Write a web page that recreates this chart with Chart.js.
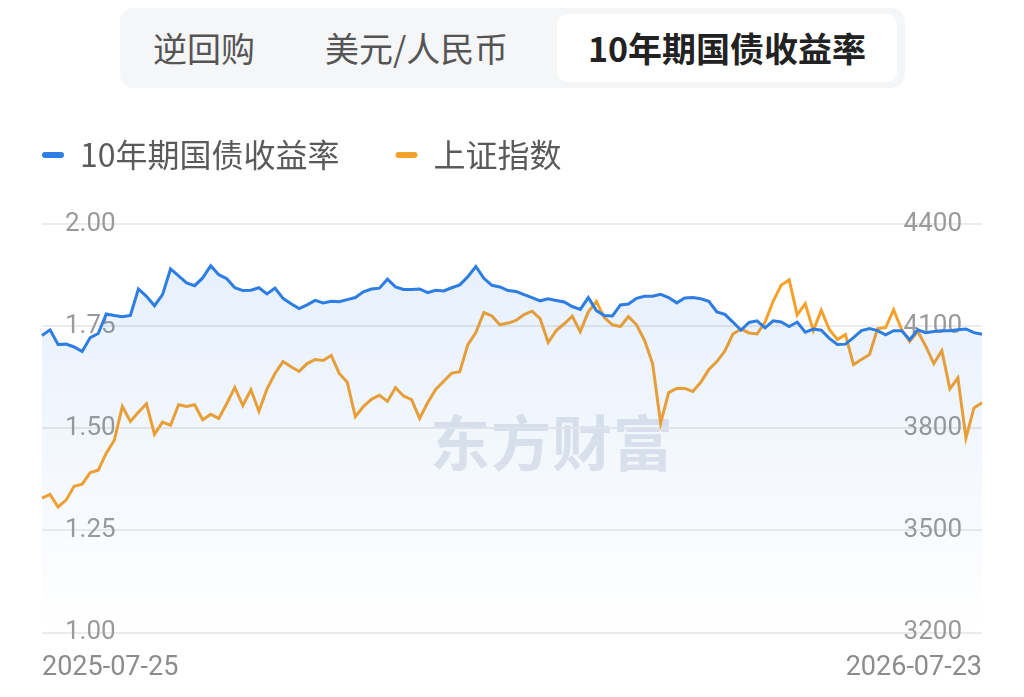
<!DOCTYPE html>
<html>
<head>
<meta charset="utf-8">
<script src="https://cdn.jsdelivr.net/npm/chart.js@4.4.1/dist/chart.umd.min.js"></script>
<style>
  html, body { margin: 0; padding: 0; background: #fff; width: 1024px; height: 697px; overflow: hidden; }
  body { position: relative; font-family: "Noto Sans CJK SC", "Noto Sans", sans-serif; }
  .tabs { position: absolute; left: 120px; top: 8px; width: 785px; height: 80px; background: #f5f6f8; border-radius: 14px; z-index: 3; }
  .tab { position: absolute; top: 0; height: 80px; line-height: 80px; font-size: 34px; color: #555; }
  .tab.on { top: 6px; height: 68px; line-height: 68px; background: #fff; border-radius: 10px; color: #222; font-weight: bold; text-align: center; }
  .mark { position: absolute; left: 430px; top: 396px; font-size: 60px; font-weight: bold; color: #e3e6ec; letter-spacing: 1px; z-index: 0; }
  .wrap { position: absolute; left: -14px; top: 0; width: 1038px; height: 695px; z-index: 1; }
</style>
</head>
<body>
<div class="tabs">
  <div class="tab" style="left:33px">逆回购</div>
  <div class="tab" style="left:205px">美元/人民币</div>
  <div class="tab on" style="left:437px;width:340px">10年期国债收益率</div>
</div>
<div class="mark">东方财富</div>
<div class="wrap"><canvas id="bond-chart"></canvas></div>
<script>
// 10年期国债收益率 (%) and 上证指数, daily, 2025-07-25 .. 2026-07-23
var dateLabels = ['2025-07-25', '2026-07-23'];

var yields = [
  1.727, 1.741, 1.705, 1.706, 1.699, 1.688, 1.722, 1.732, 1.780, 1.776,
  1.773, 1.776, 1.841, 1.823, 1.800, 1.827, 1.890, 1.873, 1.856, 1.849,
  1.868, 1.898, 1.876, 1.866, 1.844, 1.837, 1.838, 1.844, 1.829, 1.843,
  1.818, 1.805, 1.793, 1.802, 1.813, 1.807, 1.811, 1.810, 1.815, 1.820,
  1.834, 1.841, 1.843, 1.865, 1.846, 1.840, 1.840, 1.841, 1.832, 1.838,
  1.836, 1.844, 1.851, 1.871, 1.896, 1.867, 1.850, 1.846, 1.837, 1.835,
  1.827, 1.820, 1.812, 1.817, 1.813, 1.809, 1.798, 1.791, 1.820, 1.788,
  1.776, 1.775, 1.802, 1.804, 1.818, 1.823, 1.823, 1.828, 1.820, 1.807,
  1.819, 1.820, 1.817, 1.811, 1.785, 1.779, 1.760, 1.740, 1.759, 1.763,
  1.746, 1.763, 1.760, 1.749, 1.760, 1.735, 1.743, 1.740, 1.720, 1.705,
  1.706, 1.722, 1.739, 1.744, 1.739, 1.729, 1.739, 1.739, 1.717, 1.741,
  1.734, 1.737, 1.739, 1.739, 1.741, 1.743, 1.734, 1.730
];

var shIndex = [
  3595, 3606, 3569, 3589, 3630, 3636, 3670, 3677, 3727, 3765,
  3864, 3820, 3847, 3872, 3782, 3818, 3809, 3869, 3864, 3869,
  3825, 3841, 3829, 3873, 3920, 3867, 3913, 3850, 3915, 3961,
  3996, 3981, 3967, 3990, 4002, 3999, 4014, 3961, 3935, 3834,
  3864, 3885, 3897, 3879, 3919, 3895, 3884, 3829, 3875, 3914,
  3938, 3962, 3966, 4046, 4081, 4140, 4130, 4104, 4109, 4117,
  4134, 4144, 4122, 4052, 4087, 4107, 4129, 4084, 4142, 4172,
  4125, 4104, 4099, 4128, 4104, 4058, 3990, 3815, 3905, 3917,
  3917, 3908, 3935, 3973, 3996, 4027, 4077, 4092, 4080, 4077,
  4112, 4173, 4220, 4236, 4133, 4166, 4087, 4147, 4090, 4061,
  4075, 3987, 4002, 4017, 4093, 4096, 4148, 4090, 4055, 4085,
  4041, 3990, 4028, 3916, 3948, 3771, 3860, 3875
];

var yieldTicks = [1.00, 1.25, 1.50, 1.75, 2.00];
var indexTicks = [3200, 3500, 3800, 4100, 4400];

var blue = '#2d7de3';
var orange = '#f6a12b';

// make the legend take exactly the room above the plot
var legendRoom = {
  id: 'legendRoom',
  beforeInit: function (chart) {
    var fit = chart.legend.fit;
    chart.legend.fit = function () {
      fit.bind(chart.legend)();
      this.height = 141;
    };
  }
};

var ctx = document.getElementById('bond-chart').getContext('2d');

new Chart(ctx, {
  type: 'line',
  data: {
    labels: yields.map(function (v, i) { return i; }),
    datasets: [{
      label: '10年期国债收益率',
      data: yields,
      yAxisID: 'y',
      borderColor: blue,
      borderWidth: 3,
      pointRadius: 0,
      tension: 0,
      fill: 'start',
      backgroundColor: function (c) {
        var area = c.chart.chartArea;
        if (!area) return 'rgba(45,125,227,0.08)';
        var g = c.chart.ctx.createLinearGradient(0, area.top, 0, area.bottom);
        g.addColorStop(0, 'rgba(45,125,227,0.13)');
        g.addColorStop(1, 'rgba(45,125,227,0.0)');
        return g;
      }
    }, {
      label: '上证指数',
      data: shIndex,
      yAxisID: 'y1',
      borderColor: orange,
      borderWidth: 3,
      pointRadius: 0,
      tension: 0,
      fill: false
    }]
  },
  options: {
    responsive: true,
    maintainAspectRatio: false,
    animation: false,
    layout: { padding: { top: 83, bottom: 0, left: 0, right: 0 } },
    plugins: {
      tooltip: { enabled: false },
      legend: {
        display: true,
        align: 'start',
        labels: {
          boxWidth: 22,
          boxHeight: 6,
          padding: 56,
          color: '#5a5a5a',
          useBorderRadius: true,
          borderRadius: 3,
          font: { size: 32, family: '"Noto Sans CJK SC", sans-serif' },
          generateLabels: function (chart) {
            return chart.data.datasets.map(function (ds, i) {
              return {
                text: ds.label,
                fillStyle: ds.borderColor,
                strokeStyle: ds.borderColor,
                lineWidth: 0,
                borderRadius: 3,
                fontColor: '#5a5a5a',
                datasetIndex: i
              };
            });
          }
        }
      }
    },
    scales: {
      x: {
        grid: { display: false },
        border: { display: false },
        ticks: {
          autoSkip: false,
          maxRotation: 0,
          align: 'inner',
          padding: 11,
          color: '#8c8c8c',
          font: { size: 27, family: 'Roboto, sans-serif' },
          callback: function (v, i, ticks) {
            if (i === 0) return dateLabels[0];
            if (i === ticks.length - 1) return dateLabels[1];
            return '';
          }
        }
      },
      y: {
        position: 'left',
        min: 1.00,
        max: 2.00,
        afterFit: function (s) { s.width = 56; },
        afterBuildTicks: function (s) { s.ticks = yieldTicks.map(function (v) { return { value: v }; }); },
        grid: { color: '#ebebeb', lineWidth: 2, drawTicks: false },
        border: { display: false },
        ticks: {
          mirror: true,
          padding: 23,
          color: '#9a9a9a',
          font: { size: 26, family: 'Roboto, sans-serif' },
          callback: function (v) { return v.toFixed(2); }
        }
      },
      y1: {
        position: 'right',
        min: 3200,
        max: 4400,
        afterFit: function (s) { s.width = 42; },
        afterBuildTicks: function (s) { s.ticks = indexTicks.map(function (v) { return { value: v }; }); },
        grid: { display: false, drawTicks: false },
        border: { display: false },
        ticks: {
          mirror: true,
          padding: -20,
          color: '#9a9a9a',
          font: { size: 26, family: 'Roboto, sans-serif' },
          callback: function (v) { return String(v); }
        }
      }
    }
  },
  plugins: [legendRoom]
});
</script>
</body>
</html>
